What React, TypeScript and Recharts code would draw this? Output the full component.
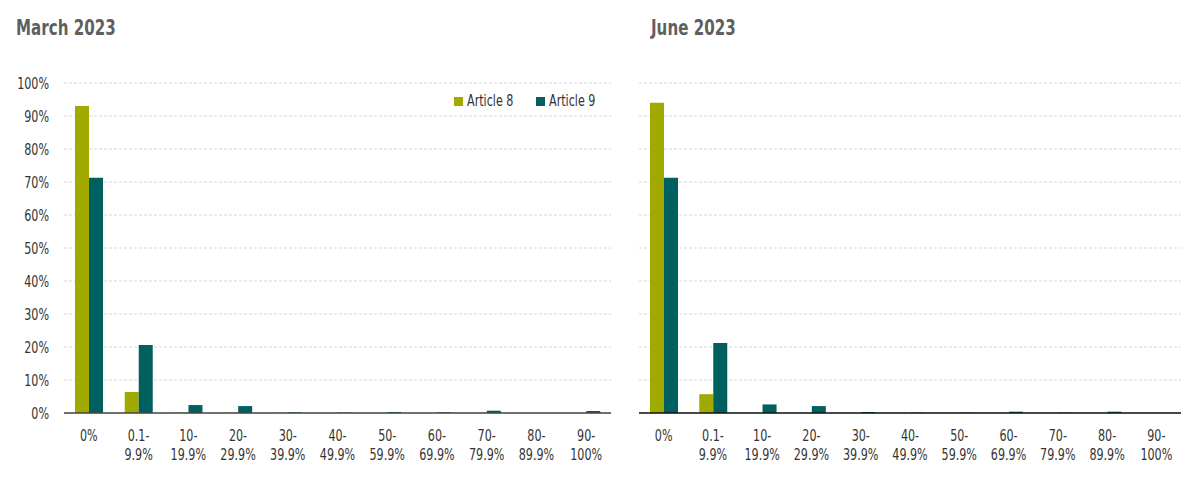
import React from "react";
import { BarChart, Bar, XAxis, YAxis, CartesianGrid } from "recharts";

const categories = ["0%", "0.1-9.9%", "10-19.9%", "20-29.9%", "30-39.9%", "40-49.9%", "50-59.9%", "60-69.9%", "70-79.9%", "80-89.9%", "90-100%"];
const marchArticle8 = [93.0, 6.4, 0.1, 0.1, 0.05, 0.0, 0.0, 0.0, 0.0, 0.0, 0.0];
const marchArticle9 = [71.3, 20.6, 2.4, 2.1, 0.2, 0.1, 0.3, 0.2, 0.7, 0.0, 0.6];
const juneArticle8 = [94.0, 5.7, 0.0, 0.0, 0.0, 0.0, 0.0, 0.0, 0.0, 0.0, 0.0];
const juneArticle9 = [71.3, 21.2, 2.6, 2.1, 0.3, 0.1, 0.1, 0.4, 0.1, 0.4, 0.0];
const yTicks = [0, 10, 20, 30, 40, 50, 60, 70, 80, 90, 100];
const seriesNames = ["Article 8", "Article 9"];
const titles = ["March 2023", "June 2023"];

const GREEN = "#A0AA00";
const TEAL = "#006060";
const FONT = "'DejaVu Sans Condensed', 'DejaVu Sans', sans-serif";
const SX = 0.8;

const build = (a8: number[], a9: number[]) =>
  categories.map((c, i) => ({ cat: c, a8: a8[i], a9: a9[i] }));

const marchData = build(marchArticle8, marchArticle9);
const juneData = build(juneArticle8, juneArticle9);

const SText = ({ x, y, anchor, children }: any) => (
  <text
    transform={`translate(${x},${y}) scale(${SX},1)`}
    x={0}
    y={0}
    textAnchor={anchor}
    fill="#333"
    fontSize={15.5}
    fontFamily={FONT}
  >
    {children}
  </text>
);

const XTick = (props: any) => {
  const { x, y, payload } = props;
  const v: string = payload.value;
  const idx = v.indexOf("-");
  const l1 = idx >= 0 ? v.slice(0, idx + 1) : v;
  const l2 = idx >= 0 ? v.slice(idx + 1) : "";
  return (
    <g>
      <SText x={x} y={y + 28} anchor="middle">{l1}</SText>
      {l2 && <SText x={x} y={y + 47} anchor="middle">{l2}</SText>}
    </g>
  );
};

const YTick = (props: any) => {
  const { x, y, payload } = props;
  return <SText x={x} y={y + 5.5} anchor="end">{`${payload.value}%`}</SText>;
};

const Panel = ({ data, width, left, right, showY, axisColor }: any) => (
  <BarChart
    width={width}
    height={480}
    data={data}
    margin={{ top: 83, right, bottom: 0, left }}
    barGap={0}
    barSize={14}
  >
    <CartesianGrid vertical={false} strokeDasharray="3 2" stroke="#d6d6d6" />
    <XAxis
      dataKey="cat"
      interval={0}
      tickLine={false}
      tickSize={0}
      tickMargin={0}
      axisLine={{ stroke: axisColor, strokeWidth: 1.5 }}
      tick={<XTick />}
      height={67}
    />
    <YAxis
      hide={!showY}
      width={64}
      domain={[0, 100]}
      ticks={yTicks}
      axisLine={false}
      tickLine={false}
      tickSize={0}
      tickMargin={15}
      tick={<YTick />}
    />
    <Bar dataKey="a8" name={seriesNames[0]} fill={GREEN} isAnimationActive={false} />
    <Bar dataKey="a9" name={seriesNames[1]} fill={TEAL} isAnimationActive={false} />
  </BarChart>
);

const scaledSpan = (text: string, size: number, extra: React.CSSProperties = {}) => (
  <span
    style={{
      display: "inline-block",
      transform: `scaleX(${SX})`,
      transformOrigin: "left center",
      fontFamily: FONT,
      fontSize: size,
      whiteSpace: "nowrap",
      ...extra,
    }}
  >
    {text}
  </span>
);

export default function App() {
  const legendColors = [GREEN, TEAL];
  const legendX = [454, 536];
  return (
    <div style={{ position: "absolute", left: 0, top: 0, width: 1201, height: 480, background: "#fff", overflow: "hidden" }}>
      <div style={{ position: "absolute", left: 0, top: 0 }}>
        <Panel data={marchData} width={620} left={0} right={9} showY={true} axisColor="#444" />
      </div>
      <div style={{ position: "absolute", left: 620, top: 0 }}>
        <Panel data={juneData} width={581} left={19} right={20} showY={false} axisColor="#111" />
      </div>
      <div style={{ position: "absolute", left: 16, top: 14, lineHeight: "28px" }}>
        {scaledSpan(titles[0], 21, { fontWeight: "bold", color: "#5f5f5f" })}
      </div>
      <div style={{ position: "absolute", left: 651, top: 14, lineHeight: "28px" }}>
        {scaledSpan(titles[1], 21, { fontWeight: "bold", color: "#5f5f5f" })}
      </div>
      {seriesNames.map((n, i) => (
        <React.Fragment key={n}>
          <div style={{ position: "absolute", left: legendX[i], top: 97, width: 9, height: 9, background: legendColors[i] }} />
          <div style={{ position: "absolute", left: legendX[i] + 13, top: 91, lineHeight: "20px" }}>
            {scaledSpan(n, 15.5, { color: "#333" })}
          </div>
        </React.Fragment>
      ))}
    </div>
  );
}
